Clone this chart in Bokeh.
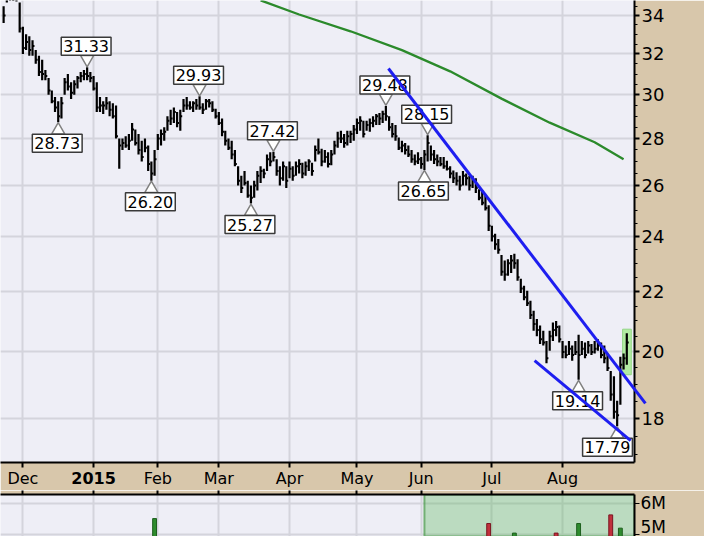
import math
from bokeh.plotting import figure
from bokeh.models import (Range1d, FixedTicker, Label, BoxAnnotation, LinearAxis,
                          ColumnDataSource, PrintfTickFormatter)
from bokeh.layouts import column
from bokeh.embed import file_html
from bokeh.resources import INLINE

# ---------------- data ----------------
# x = trading-day index, 0 = 1 Dec 2014
month_idx = [0, 22, 42, 61, 83, 104, 124, 146, 168]
month_lbl = ["Dec", "2015", "Feb", "Mar", "Apr", "May", "Jun", "Jul", "Aug"]
year_tick = 22

first_idx = -6
highs = [34.5, 35.6, 35.5, 35.4, 35.2,
         34.7, 33.4, 33.0, 32.9, 32.7, 32.2, 31.9, 31.7, 31.2, 30.8,
         30.2, 29.9, 29.7, 29.9, 30.8, 31.0, 30.6, 30.7, 30.9, 31.1,
         31.2, 31.33, 31.1, 30.9, 30.6, 29.9, 29.7, 29.9, 29.7, 29.6,
         29.5, 28.0, 28.0, 28.1, 28.2, 28.7, 28.4, 28.2, 27.9, 28.0,
         27.7, 27.0, 27.5, 28.2, 28.4, 28.5, 29.0, 29.3, 29.4, 29.2,
         29.3, 29.8, 29.9, 29.7, 29.7, 29.8, 29.93, 29.6, 29.8, 29.8,
         29.7, 29.35, 29.2, 28.9, 28.35, 28.0, 27.9, 27.5, 26.8, 26.4,
         26.6, 26.2, 26.0, 26.2, 26.6, 26.8, 26.7, 27.3, 27.4, 27.42,
         27.1, 26.8, 27.0, 26.8, 27.0, 26.8, 27.0, 27.1, 26.95, 27.0,
         27.1, 26.95, 27.7, 28.0, 27.55, 27.5, 27.4, 27.5, 27.9, 28.3,
         28.35, 28.2, 28.35, 28.35, 28.6, 28.9, 29.0, 28.8, 28.8, 28.9,
         29.0, 29.1, 29.15, 29.26, 29.48, 29.0, 28.7, 28.6, 28.05, 27.9,
         27.8, 27.7, 27.5, 27.3, 27.4, 27.2, 27.5, 28.15, 27.7, 27.5,
         27.3, 27.2, 27.2, 27.04, 26.8, 26.62, 26.55, 26.4, 26.6, 26.5,
         26.4, 26.4, 26.3, 25.85, 25.8, 25.6, 25.2, 24.4, 24.1, 23.9,
         23.3, 23.1, 23.15, 23.3, 23.35, 23.15, 22.45, 22.2, 22.03, 21.68,
         21.34, 21.07, 20.85, 20.68, 20.35, 20.68, 20.95, 21.0, 20.85, 20.35,
         20.2, 20.35, 20.2, 20.35, 20.55, 20.35, 20.3, 20.35, 20.25, 20.35,
         20.4, 20.3, 20.2, 19.95, 19.41, 19.25, 18.52, 19.85, 19.95, 20.6]
lows = [33.6, 34.7, 34.8, 34.78, 34.75,
        33.1, 32.0, 32.2, 31.9, 31.9, 31.5, 30.9, 30.7, 30.7, 30.0,
        29.6, 29.2, 28.73, 28.9, 30.0, 30.2, 29.8, 30.0, 30.3, 30.6,
        30.7, 30.7, 30.6, 30.2, 29.2, 29.2, 29.1, 29.3, 29.0, 28.9,
        28.0, 26.7, 27.5, 27.6, 27.5, 27.9, 27.7, 27.3, 27.0, 27.4,
        26.6, 26.20, 26.4, 27.5, 27.7, 27.9, 28.35, 28.6, 28.7, 28.5,
        28.35, 29.2, 29.3, 29.3, 29.2, 29.3, 29.3, 29.1, 29.3, 29.4,
        29.2, 28.9, 28.6, 28.1, 27.7, 27.5, 27.1, 26.8, 26.0, 25.7,
        26.0, 25.5, 25.27, 25.5, 25.8, 26.1, 26.3, 26.6, 26.8, 27.0,
        26.4, 26.0, 26.2, 25.9, 26.3, 26.2, 26.4, 26.5, 26.3, 26.4,
        26.6, 26.4, 27.0, 27.3, 26.8, 26.95, 26.75, 26.85, 27.3, 27.6,
        27.8, 27.6, 27.7, 27.8, 27.9, 28.2, 28.35, 28.05, 28.35, 28.3,
        28.5, 28.6, 28.6, 28.7, 28.8, 28.35, 28.05, 27.9, 27.5, 27.4,
        27.3, 27.2, 26.95, 26.85, 26.9, 26.7, 26.65, 27.0, 27.04, 26.9,
        26.8, 26.8, 26.7, 26.62, 26.3, 26.1, 26.0, 25.8, 26.0, 26.0,
        25.8, 25.9, 25.7, 25.4, 25.2, 25.0, 24.2, 23.8, 23.5, 23.35,
        22.55, 22.38, 22.55, 22.65, 22.8, 22.38, 21.95, 21.7, 21.5, 21.07,
        20.68, 20.5, 20.25, 20.2, 19.65, 20.04, 20.35, 20.5, 20.3, 19.8,
        19.8, 19.9, 19.72, 19.9, 19.14, 19.9, 19.8, 19.95, 19.9, 19.95,
        20.04, 19.8, 19.65, 19.41, 18.52, 18.0, 17.79, 18.4, 19.45, 19.6]
closes = [34.0, 35.0, 35.1, 35.0, 34.9,
          33.3, 32.3, 32.6, 32.2, 32.4, 31.7, 31.1, 31.0, 30.9, 30.2,
          29.7, 29.4, 29.0, 29.6, 30.6, 30.4, 30.1, 30.5, 30.8, 30.9,
          31.0, 30.9, 30.8, 30.3, 29.4, 29.5, 29.5, 29.6, 29.3, 29.0,
          28.1, 27.7, 27.8, 27.7, 27.9, 28.4, 27.8, 27.5, 27.2, 27.6,
          26.9, 26.5, 27.1, 28.0, 28.2, 28.3, 28.8, 28.9, 29.2, 28.7,
          29.0, 29.5, 29.5, 29.4, 29.6, 29.5, 29.4, 29.3, 29.7, 29.6,
          29.3, 29.0, 28.7, 28.3, 27.9, 27.6, 27.3, 26.9, 26.2, 25.9,
          26.1, 25.6, 25.5, 26.0, 26.4, 26.6, 26.5, 27.1, 27.0, 27.2,
          26.6, 26.3, 26.8, 26.2, 26.7, 26.4, 26.8, 26.9, 26.5, 26.8,
          27.0, 26.6, 27.5, 27.4, 27.0, 27.2, 26.9, 27.3, 27.7, 28.0,
          28.0, 27.8, 28.1, 28.2, 28.4, 28.7, 28.8, 28.2, 28.6, 28.7,
          28.8, 29.0, 28.9, 29.1, 29.0, 28.5, 28.2, 28.1, 27.6, 27.7,
          27.5, 27.3, 27.1, 27.0, 27.1, 26.9, 27.3, 27.8, 27.3, 27.1,
          27.0, 26.9, 26.8, 26.7, 26.5, 26.3, 26.2, 26.0, 26.4, 26.3,
          26.0, 26.2, 25.9, 25.5, 25.3, 25.1, 24.4, 24.0, 23.7, 23.5,
          22.7, 22.6, 23.0, 23.1, 23.0, 22.5, 22.1, 21.8, 21.6, 21.2,
          20.9, 20.7, 20.4, 20.3, 19.8, 20.5, 20.7, 20.8, 20.4, 20.0,
          19.9, 20.1, 19.9, 20.0, 19.9, 20.1, 19.9, 20.2, 20.0, 20.1,
          20.2, 19.9, 19.8, 19.5, 18.7, 18.2, 18.1, 19.6, 19.8, 20.3]

# moving average (read at a few points)
ma_idx = [74, 86, 102, 118, 133, 149, 164, 178, 187]
ma_val = [34.82, 34.05, 33.16, 32.19, 31.13, 29.82, 28.71, 27.84, 27.10]

# trendlines
upper_idx = [113.8, 193.8]
upper_val = [31.27, 18.44]
lower_idx = [159.3, 189.2]
lower_val = [19.73, 17.39]

# annotated pivots
pivot_idx = [11, 20, 40, 55, 71, 78, 113, 125, 126, 173, 185]
pivot_val = [28.73, 31.33, 26.20, 29.93, 25.27, 27.42, 29.48, 26.65, 28.15, 19.14, 17.79]
pivot_side = ["low", "high", "low", "high", "low", "high", "high", "low", "high", "low", "low"]

# visible volume bars
vol_idx = [41, 145, 153, 166, 173, 183, 186]
vol_val = [5.50e6, 5.34e6, 5.03e6, 5.03e6, 5.34e6, 5.62e6, 5.19e6]
vol_up = [True, False, True, False, True, False, True]

price_ticks = [18, 20, 22, 24, 26, 28, 30, 32, 34]
price_minor = [17 + 0.5 * k for k in range(38)]
vol_ticks = [5000000, 6000000]
vol_tick_lbl = ["5M", "6M"]
highlight_from = 125

# ---------------- style ----------------
TAN = "#d8c7ab"
BG = "#eeeef6"
GRID = "#d4d4dc"
FONT = "DejaVu Sans"
FW, FH = 634, 462
X0, X1 = -6.97, 190.4
Y0, Y1 = 16.80, 34.81
PPL = FH / math.log(Y1 / Y0)   # pixels per log unit
PPX = FW / (X1 - X0)           # pixels per trading day

idx = list(range(first_idx, first_idx + len(highs)))
label_months = [m for m in month_idx if m != year_tick]

p = figure(frame_width=FW, frame_height=FH, x_range=Range1d(X0, X1),
           y_range=Range1d(Y0, Y1), y_axis_type="log", y_axis_location="right",
           output_backend="svg", toolbar_location=None,
           min_border_left=0, min_border_top=0, min_border_right=70,
           min_border_bottom=24, background_fill_color=BG,
           border_fill_color=TAN, outline_line_color=None)

p.xgrid.ticker = FixedTicker(ticks=month_idx)
p.ygrid.ticker = FixedTicker(ticks=price_ticks)
for g in (p.xgrid, p.ygrid):
    g.grid_line_color = GRID
    g.grid_line_width = 2
    g.minor_grid_line_color = None

xa = p.xaxis[0]
xa.ticker = FixedTicker(ticks=label_months, minor_ticks=[year_tick])
xa.major_label_overrides = {m: l for m, l in zip(month_idx, month_lbl) if m != year_tick}
xa.axis_line_color = "black"
xa.axis_line_width = 2
xa.major_tick_out = 5
xa.major_tick_in = 0
xa.major_tick_line_width = 2
xa.minor_tick_out = 5
xa.minor_tick_in = 0
xa.minor_tick_line_width = 2
xa.minor_tick_line_color = "black"
xa.major_label_text_font = FONT
xa.major_label_text_font_size = "16px"
xa.major_label_text_color = "black"
xa.major_label_standoff = 1

# second (label-only) axis carrying the bold year, drawn back into the first axis' row
ya_year = LinearAxis(ticker=FixedTicker(ticks=[year_tick]),
                     major_label_overrides={year_tick: month_lbl[month_idx.index(year_tick)]},
                     axis_line_color=None, major_tick_line_color=None,
                     minor_tick_line_color=None, major_tick_out=0, major_tick_in=0,
                     major_label_standoff=-19, major_label_text_font=FONT,
                     major_label_text_font_size="16px", major_label_text_font_style="bold",
                     major_label_text_color="black")
p.add_layout(ya_year, "below")

ya = p.yaxis[0]
ya.ticker = FixedTicker(ticks=price_ticks, minor_ticks=price_minor)
ya.formatter = PrintfTickFormatter(format="%d")
ya.axis_line_color = "black"
ya.axis_line_width = 2
ya.major_tick_out = 5
ya.major_tick_in = 0
ya.major_tick_line_width = 2
ya.minor_tick_out = 3
ya.minor_tick_in = 0
ya.major_label_text_font = FONT
ya.major_label_text_font_size = "18px"
ya.major_label_text_color = "black"
ya.major_label_standoff = 2

# highlight box behind the last bar
last = len(highs) - 1
p.quad(left=[idx[last] - 1.3], right=[idx[last] + 1.4],
       top=[highs[last] * math.exp(4 / PPL)], bottom=[lows[last] * math.exp(-10 / PPL)],
       fill_color="#b2eca2", line_color="#93d585", line_width=1)

# moving average
p.line(ma_idx, ma_val, line_color="#2b8a2b", line_width=2.3)

# HLC bars
src = ColumnDataSource(dict(x=idx, h=highs, l=lows, c=closes, xr=[i + 0.6 for i in idx]))
p.segment(x0="x", y0="l", x1="x", y1="h", source=src, line_color="black", line_width=2.2)
p.segment(x0="x", y0="c", x1="xr", y1="c", source=src, line_color="black", line_width=2)

# pivot labels (kept inside the frame)
for xi, val, side in zip(pivot_idx, pivot_val, pivot_side):
    s = 1 if side == "high" else -1
    px = (xi - X0) * PPX
    xoff = min(-1, FW - 27 - px)
    p.scatter([xi], [val * math.exp(s * 8 / PPL)],
              marker="inverted_triangle" if s > 0 else "triangle", size=13,
              fill_color="white", line_color="#808080", line_width=1.5)
    p.add_layout(Label(x=xi, y=val, y_offset=s * 21, x_offset=xoff, text=f"{val:.2f}",
                       text_align="center", text_baseline="middle", text_font=FONT,
                       text_font_size="16px", text_color="black",
                       background_fill_color="white", border_line_color="#3a3a3a",
                       border_line_width=1.5, padding=(2, 3)))

# trendlines
p.line(upper_idx, upper_val, line_color="#1e1ef0", line_width=3, level="overlay")
p.line(lower_idx, lower_val, line_color="#1e1ef0", line_width=3, level="overlay")

# ---------------- volume panel ----------------
v = figure(frame_width=FW, frame_height=42, x_range=p.x_range,
           y_range=Range1d(4.92e6, 6.28e6), y_axis_location="right",
           x_axis_location="above", output_backend="svg", toolbar_location=None,
           min_border_left=0, min_border_top=0, min_border_right=70,
           min_border_bottom=0, background_fill_color=BG,
           border_fill_color=TAN, outline_line_color=None)
v.xgrid.ticker = FixedTicker(ticks=month_idx)
v.ygrid.ticker = FixedTicker(ticks=vol_ticks)
for g in (v.xgrid, v.ygrid):
    g.grid_line_color = GRID
    g.grid_line_width = 2
vx = v.xaxis[0]
vx.ticker = FixedTicker(ticks=[], minor_ticks=month_idx)
vx.axis_line_color = "black"
vx.axis_line_width = 2
vx.major_tick_line_color = None
vx.minor_tick_out = 4
vx.minor_tick_in = 0
vx.minor_tick_line_width = 2
vx.minor_tick_line_color = "black"
vy = v.yaxis[0]
vy.ticker = FixedTicker(ticks=vol_ticks)
vy.major_label_overrides = dict(zip(vol_ticks, vol_tick_lbl))
vy.axis_line_color = "black"
vy.axis_line_width = 2
vy.major_tick_out = 5
vy.major_tick_in = 0
vy.minor_tick_line_color = None
vy.major_label_text_font = FONT
vy.major_label_text_font_size = "17px"
vy.major_label_text_color = "black"
vy.major_label_standoff = 1

v.add_layout(BoxAnnotation(left=highlight_from, fill_color="#5cb85c", fill_alpha=0.35,
                           line_color="#4a9a4a", line_width=2, line_alpha=0.7,
                           level="underlay"))
v.vbar(x=vol_idx, top=vol_val, bottom=0, width=1.2,
       fill_color=["#2e8b2e" if u else "#c0303c" for u in vol_up],
       line_color=["#1d5e1d" if u else "#7a1420" for u in vol_up])

layout = column(p, v, spacing=0)
open("out.html", "w").write(file_html(layout, INLINE))
